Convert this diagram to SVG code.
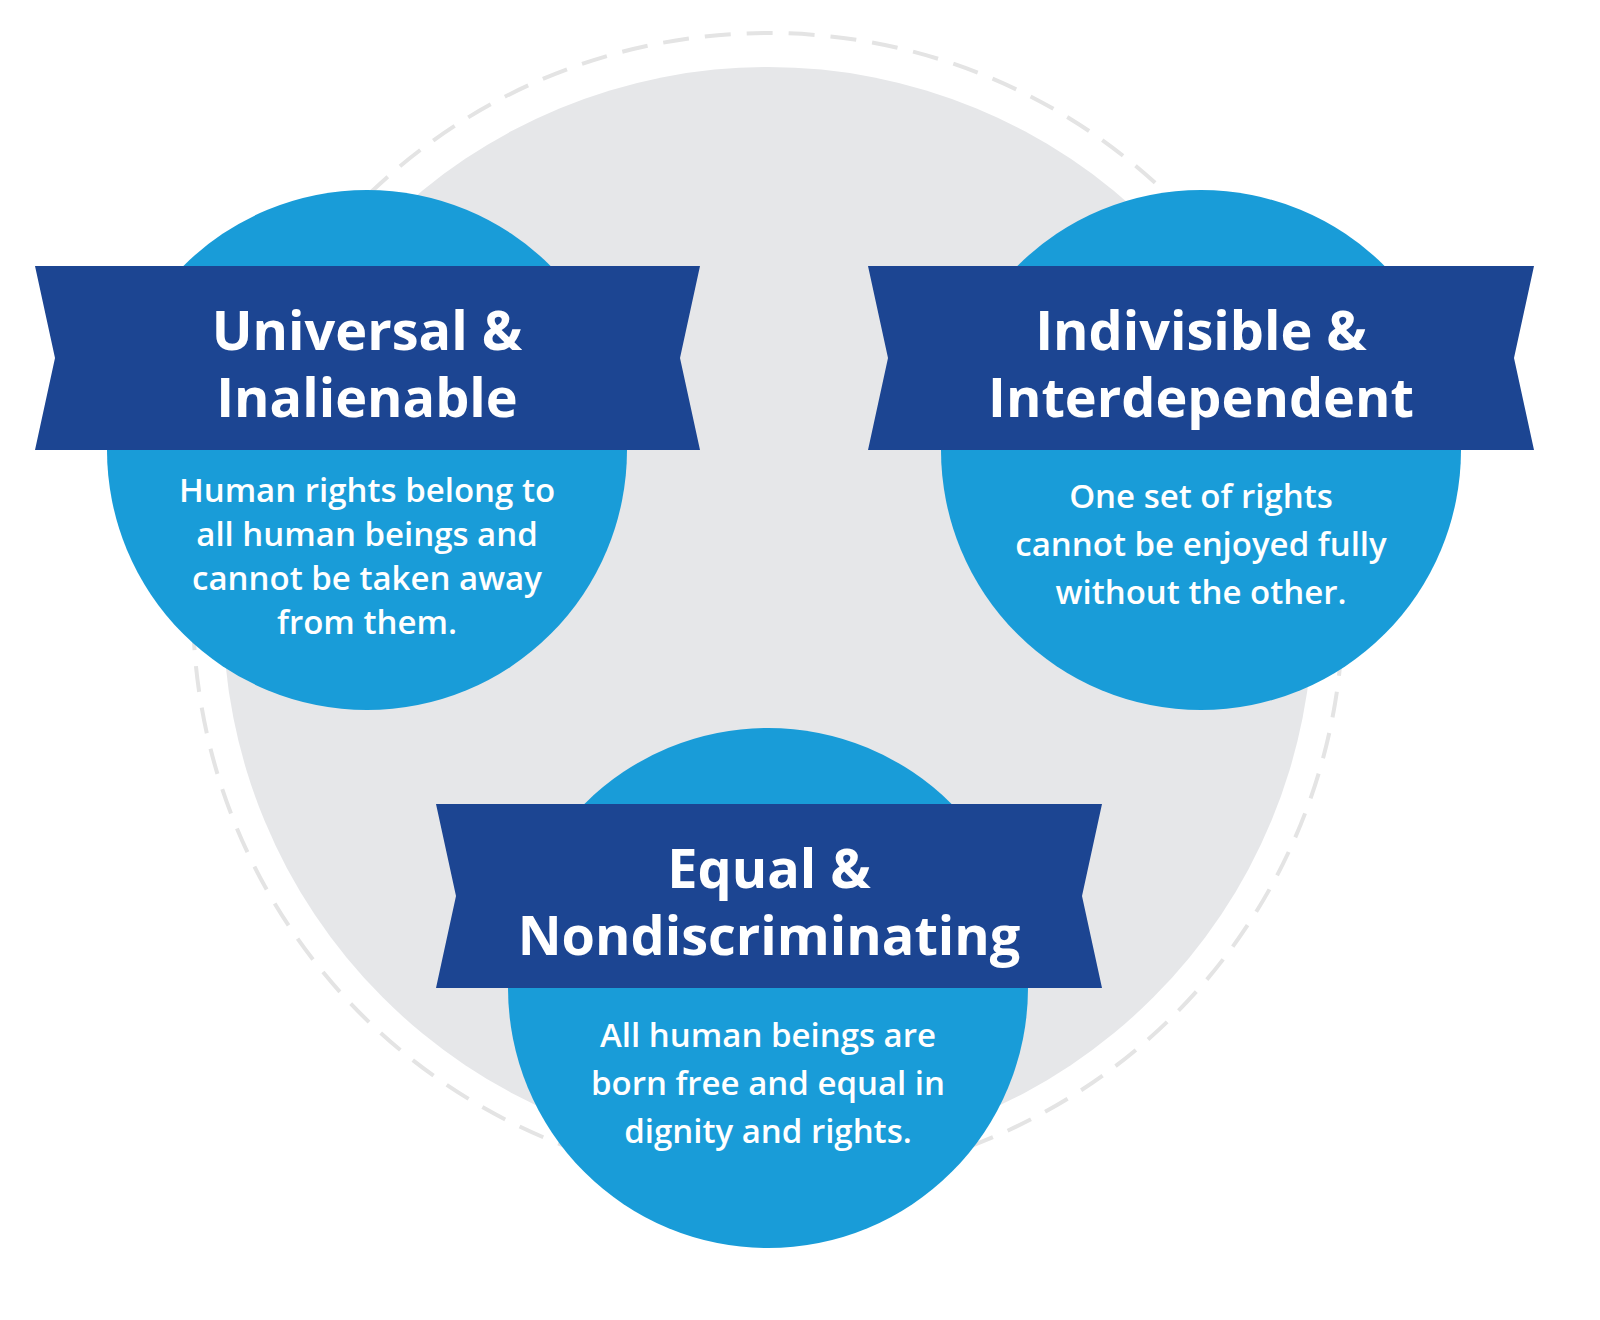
<svg xmlns="http://www.w3.org/2000/svg" width="1600" height="1320" viewBox="0 0 1600 1320">
<style>
.c{fill:#199CD8}
.b{fill:#1C4592}
.t{font-family:"Open Sans","Liberation Sans",sans-serif;font-weight:700;font-size:54px;fill:#fff;text-anchor:middle}
.d{font-family:"Open Sans","Liberation Sans",sans-serif;font-weight:600;font-size:33px;fill:#fff;text-anchor:middle}
</style>
<rect width="1600" height="1320" fill="#fff"/>
<circle cx="768" cy="608" r="575" fill="none" stroke="#E4E4E4" stroke-width="4" stroke-dasharray="26 16"/>
<circle cx="768" cy="612" r="545" fill="#E6E7E9"/>
<g id="universal">
<circle class="c" cx="367" cy="450" r="260"/>
<polygon class="b" points="35,266 700,266 680,358 700,450 35,450 55,358"/>
<text class="t" x="367" y="350">Universal &amp;</text>
<text class="t" x="367" y="417">Inalienable</text>
<text class="d" x="367" y="502">Human rights belong to</text>
<text class="d" x="367" y="546">all human beings and</text>
<text class="d" x="367" y="590">cannot be taken away</text>
<text class="d" x="367" y="634">from them.</text>
</g>
<g id="indivisible">
<circle class="c" cx="1201" cy="450" r="260"/>
<polygon class="b" points="868,266 1534,266 1514,358 1534,450 868,450 888,358"/>
<text class="t" x="1201" y="350">Indivisible &amp;</text>
<text class="t" x="1201" y="417">Interdependent</text>
<text class="d" x="1201" y="508">One set of rights</text>
<text class="d" x="1201" y="556">cannot be enjoyed fully</text>
<text class="d" x="1201" y="604">without the other.</text>
</g>
<g id="equal">
<circle class="c" cx="768" cy="988" r="260"/>
<polygon class="b" points="436,804 1102,804 1082,896 1102,988 436,988 456,896"/>
<text class="t" x="769" y="888">Equal &amp;</text>
<text class="t" x="769" y="955">Nondiscriminating</text>
<text class="d" x="768" y="1047">All human beings are</text>
<text class="d" x="768" y="1095">born free and equal in</text>
<text class="d" x="768" y="1143">dignity and rights.</text>
</g>
<g id="connectors"/>
</svg>
